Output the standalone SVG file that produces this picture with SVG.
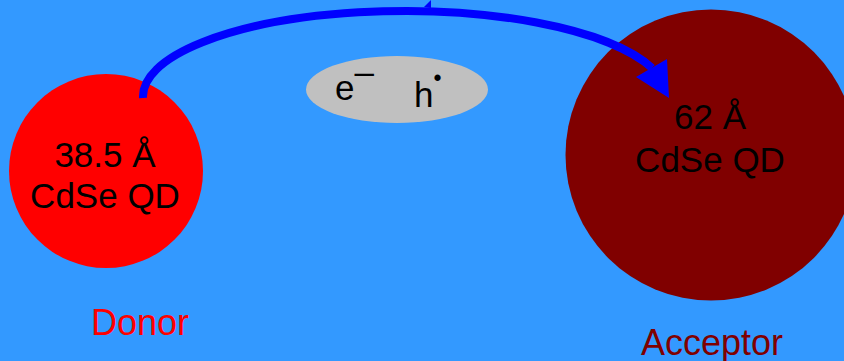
<svg xmlns="http://www.w3.org/2000/svg" width="844" height="361" viewBox="0 0 844 361">
<style>
  .t { font-family: "Liberation Sans", Arial, sans-serif; font-size: 35px; fill: #000; }
  .lbl { font-family: "Liberation Sans", Arial, sans-serif; font-size: 36px; text-anchor: middle; }
  .c { text-anchor: middle; }
</style>
<rect width="844" height="361" fill="#3399FF"/>
<g id="donor">
  <circle cx="106" cy="171" r="97" fill="#FF0000"/>
  <text class="t c" x="105" y="167">38.5 Å</text>
  <text class="t c" x="105" y="208">CdSe QD</text>
</g>
<g id="acceptor">
  <circle cx="711" cy="155" r="145.5" fill="#800000"/>
  <text class="t c" x="710" y="129">62 Å</text>
  <text class="t c" x="710" y="172">CdSe QD</text>
</g>
<g id="exciton">
  <ellipse cx="397" cy="89.5" rx="91" ry="33.5" fill="#C0C0C0"/>
  <text class="t" x="335" y="100">e<tspan dy="-16">–</tspan></text>
  <text class="t" x="414" y="107">h<tspan dy="-21" font-size="23">•</tspan></text>
</g>
<g id="donor-label"><text class="lbl" x="140" y="335" fill="#FF0000">Donor</text></g>
<g id="acceptor-label"><text class="lbl" x="712" y="355" fill="#800000">Acceptor</text></g>
<g id="connectors">
  <path d="M143,98 A262,85.5 0 0 1 652,68" fill="none" stroke="#0000FF" stroke-width="8"/>
  <polygon points="669,98 636,77 667,59" fill="#0000FF"/>
  <polygon points="424,7 431,0 431,8" fill="#0000FF"/>
</g>
</svg>
